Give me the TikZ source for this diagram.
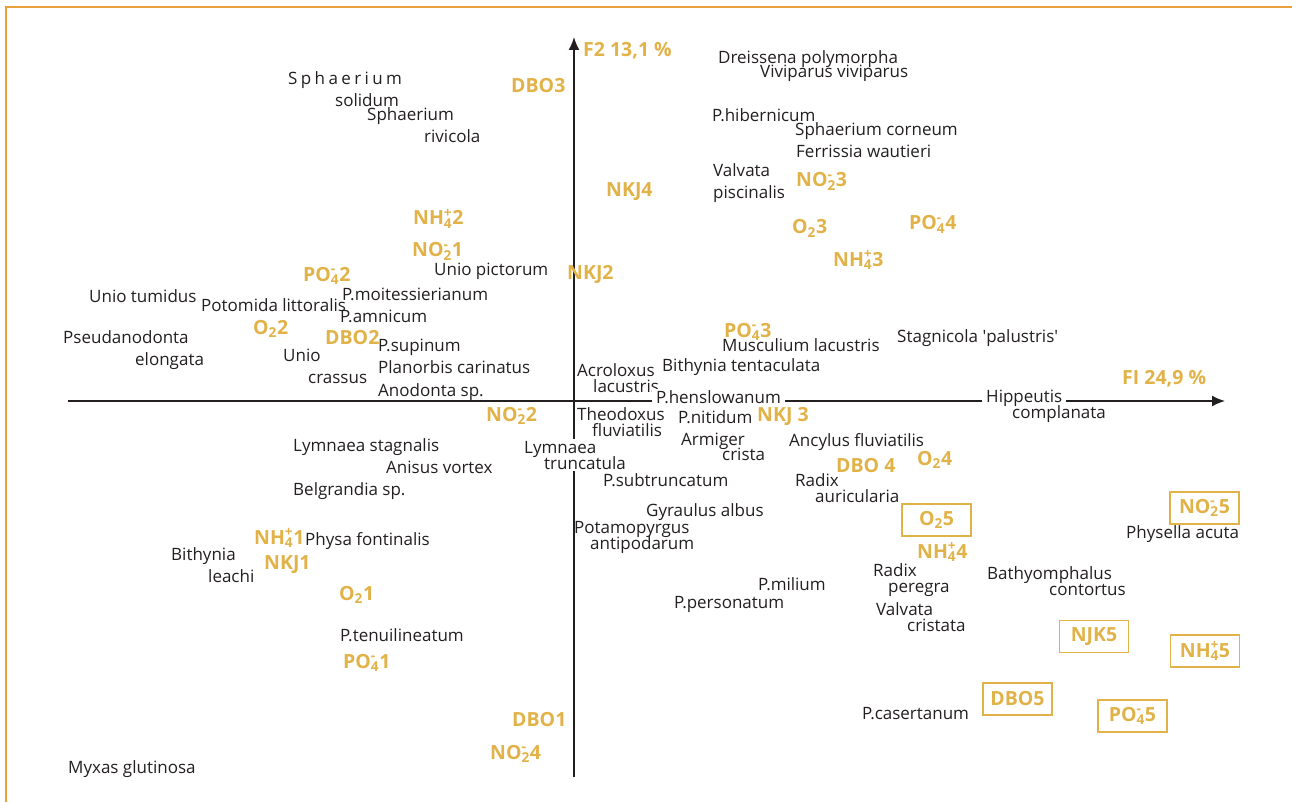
\documentclass[tikz,border=0pt]{standalone}
\usepackage{fontspec}
\setmainfont{Open Sans}
\usetikzlibrary{arrows.meta,positioning}
\definecolor{gold}{RGB}{225,178,72}
\definecolor{frameorange}{RGB}{233,160,58}
\definecolor{ink}{RGB}{35,31,32}
\newcommand\ionlab[3]{#1\rlap{\textsuperscript{#3}}\textsubscript{#2}}
\tikzset{
  sp/.style={anchor=base west, inner sep=0pt, text=ink,
    font=\fontsize{17pt}{20pt}\selectfont},
  spw/.style={sp, fill=white, inner xsep=4pt, inner ysep=1.5pt},
  var/.style={anchor=base west, inner sep=0pt, text=gold,
    font=\fontsize{19.5pt}{22pt}\selectfont\bfseries},
  varbox/.style={var, anchor=center, draw=gold, line width=1.2pt,
    minimum width=69pt, minimum height=32pt},
  axis/.style={draw=ink, line width=1.6pt, -{Latex[length=13pt,width=11pt]}}
}
\begin{document}
\begin{tikzpicture}[x=1pt,y=-1pt]
  \useasboundingbox (0,0) rectangle (1292,802);
  \draw[frameorange, line width=1.2pt](6,802)--(6,7)--(1292,7);
  % axes
  \coordinate(xl) at (68,401);
  \coordinate(xr) at (1225,401);
  \coordinate(yb) at (574,777);
  \coordinate(yt) at (574,37);
  \draw[axis](xl)--(xr);
  \draw[axis](yb)--(yt);
  \node[var](f2) at (583,57) {F2 13,1 \%};
  \node[var](f1) at (1122,384) {FI 24,9 \%};
  % species
  \node[sp](sphA) at (288,85) {\addfontfeature{LetterSpace=20}Sphaerium};
  \node[sp](solidum) at (335,107) {solidum};
  \node[sp](sphB) at (367,121) {Sphaerium};
  \node[sp](rivicola) at (424,143) {rivicola};
  \node[sp](dreissena) at (718,64) {Dreissena polymorpha};
  \node[sp](viviparus) at (760,78) {Viviparus viviparus};
  \node[sp](hibernicum) at (712,122) {P.hibernicum};
  \node[sp](corneum) at (795,136) {Sphaerium corneum};
  \node[sp](ferrissia) at (796,158) {Ferrissia wautieri};
  \node[sp](valvA) at (713,177) {Valvata};
  \node[sp](valvB) at (713,199) {piscinalis};
  \node[sp](pictorum) at (434,276) {Unio pictorum};
  \node[sp](tumidus) at (89,302) {Unio tumidus};
  \node[sp](potomida) at (201,311) {Potomida littoralis};
  \node[sp](moitess) at (342,300) {P.moitessierianum};
  \node[sp](amnicum) at (340,322) {P.amnicum};
  \node[sp](pseudA) at (63,343) {Pseudanodonta};
  \node[sp](pseudB) at (135,365) {elongata};
  \node[sp](crassA) at (283,361) {Unio};
  \node[sp](crassB) at (308,383) {crassus};
  \node[sp](supinum) at (378,351) {P.supinum};
  \node[sp](planorbis) at (378,373) {Planorbis carinatus};
  \node[sp](anodonta) at (378,396) {Anodonta sp.};
  \node[sp](musculium) at (722,351) {Musculium lacustris};
  \node[sp](stagnicola) at (897,342) {Stagnicola \textquotesingle palustris\textquotesingle};
  \node[sp](tentac) at (662,371) {Bithynia tentaculata};
  \node[sp](acroA) at (577,376) {Acroloxus};
  \node[sp](acroB) at (593,392) {lacustris};
  \node[spw](hensl) at (652,403) {P.henslowanum};
  \node[spw](hippA) at (982,402) {Hippeutis};
  \node[sp](hippB) at (1012,418) {complanata};
  \node[sp](theoA) at (577,420) {Theodoxus};
  \node[sp](theoB) at (592,436) {fluviatilis};
  \node[sp](nitidum) at (678,423) {P.nitidum};
  \node[sp](armA) at (681,445) {Armiger};
  \node[sp](armB) at (722,460) {crista};
  \node[spw](lymA) at (520,453) {Lymnaea};
  \node[spw](lymB) at (540,469) {truncatula};
  \node[sp](ancylus) at (789,446) {Ancylus fluviatilis};
  \node[sp](stagnalis) at (293,451) {Lymnaea stagnalis};
  \node[sp](anisus) at (386,473) {Anisus vortex};
  \node[sp](belgrandia) at (293,495) {Belgrandia sp.};
  \node[sp](subtrunc) at (603,486) {P.subtruncatum};
  \node[sp](radaA) at (795,486) {Radix};
  \node[sp](radaB) at (815,502) {auricularia};
  \node[sp](gyraulus) at (646,516) {Gyraulus albus};
  \node[sp](potaA) at (574,533) {Potamopyrgus};
  \node[sp](potaB) at (590,549) {antipodarum};
  \node[sp](physella) at (1126,538) {Physella acuta};
  \node[sp](physa) at (305,545) {Physa fontinalis};
  \node[sp](leachA) at (171,560) {Bithynia};
  \node[sp](leachB) at (208,582) {leachi};
  \node[sp](radpA) at (873,576) {Radix};
  \node[sp](radpB) at (888,592) {peregra};
  \node[sp](bathA) at (987,579) {Bathyomphalus};
  \node[sp](bathB) at (1049,595) {contortus};
  \node[sp](milium) at (758,590) {P.milium};
  \node[sp](personatum) at (674,608) {P.personatum};
  \node[sp](valcA) at (876,615) {Valvata};
  \node[sp](valcB) at (907,631) {cristata};
  \node[sp](tenui) at (340,641) {P.tenuilineatum};
  \node[sp](casert) at (862,719) {P.casertanum};
  \node[sp](myxas) at (68,773) {Myxas glutinosa};
  % variables
  \node[var](dbo3) at (511,93) {DBO3};
  \node[var](nkj4) at (606,197) {NKJ4};
  \node[var](no3) at (796,187) {\ionlab{NO}{2}{-}3};
  \node[var](nh2) at (413,225) {\ionlab{NH}{4}{+}2};
  \node[var](po4) at (909,230) {\ionlab{PO}{4}{-}4};
  \node[var](o3) at (792,234) {O\textsubscript{2}3};
  \node[var](no1) at (412,257) {\ionlab{NO}{2}{-}1};
  \node[var](nh3) at (833,266) {\ionlab{NH}{4}{+}3};
  \node[var](nkj2) at (567,279) {NKJ2};
  \node[var](po2) at (303,281) {\ionlab{PO}{4}{-}2};
  \node[var](o2) at (253,334) {O\textsubscript{2}2};
  \node[var](dbo2) at (325,344) {DBO2};
  \node[var](po3) at (724,337) {\ionlab{PO}{4}{-}3};
  \node[var](no2) at (486,421) {\ionlab{NO}{2}{-}2};
  \node[var](nkj3) at (757,421) {NKJ 3};
  \node[var](dbo4) at (836,472) {DBO 4};
  \node[var](o4) at (917,465) {O\textsubscript{2}4};
  \node[var](nh4) at (917,558) {\ionlab{NH}{4}{+}4};
  \node[var](nh1) at (254,544) {\ionlab{NH}{4}{+}1};
  \node[var](nkj1) at (264,569) {NKJ1};
  \node[var](o1) at (339,600) {O\textsubscript{2}1};
  \node[var](po1) at (343,668) {\ionlab{PO}{4}{-}1};
  \node[var](dbo1) at (512,726) {DBO1};
  \node[var](no4) at (490,759) {\ionlab{NO}{2}{-}4};
  \node[varbox](no5) at (1204.5,508) {\ionlab{NO}{2}{-}5};
  \node[varbox](o5) at (936.5,520) {O\textsubscript{2}5};
  \node[varbox](njk5) at (1094,636.5) {NJK5};
  \node[varbox](nh5) at (1205,651) {\ionlab{NH}{4}{+}5};
  \node[varbox](dbo5) at (1017.5,699) {DBO5};
  \node[varbox](po5) at (1132.5,716) {\ionlab{PO}{4}{-}5};
\end{tikzpicture}
\end{document}
